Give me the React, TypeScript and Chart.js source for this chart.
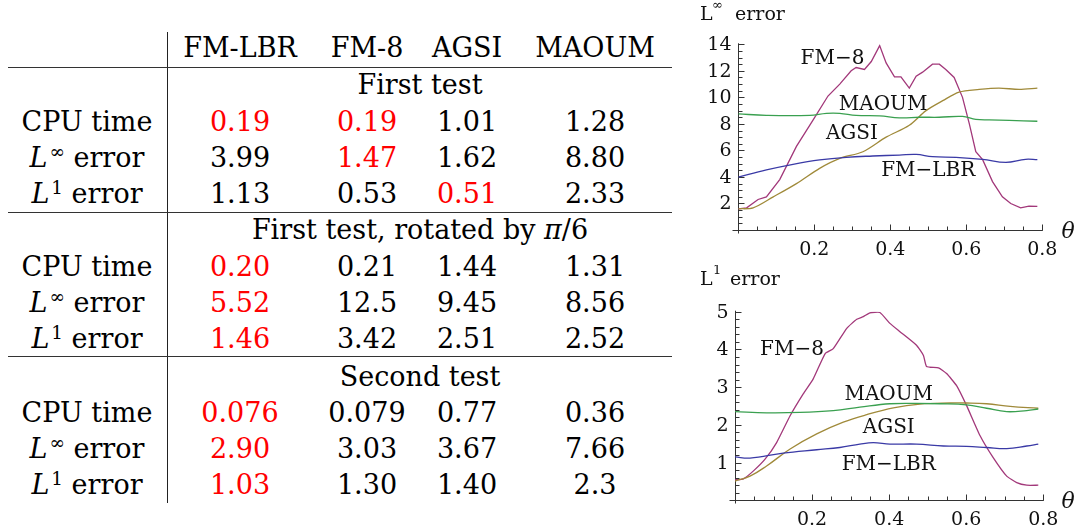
import React, { useEffect, useRef } from "react";
import { Chart, registerables } from "chart.js";
Chart.register(...registerables);

const SERIF = '"DejaVu Serif", "Liberation Serif", serif';

// ---------------- table data ----------------
const methods = ["FM-LBR", "FM-8", "AGSI", "MAOUM"];
const sectionTitles = ["First test", "First test, rotated by ", "Second test"];
const measureLabels = ["CPU time", "L∞ error", "L1 error"];
const firstTestValues = [
  ["0.19", "0.19", "1.01", "1.28"],
  ["3.99", "1.47", "1.62", "8.80"],
  ["1.13", "0.53", "0.51", "2.33"],
];
const firstTestBest = [[0, 1], [1], [2]];
const rotatedTestValues = [
  ["0.20", "0.21", "1.44", "1.31"],
  ["5.52", "12.5", "9.45", "8.56"],
  ["1.46", "3.42", "2.51", "2.52"],
];
const rotatedTestBest = [[0], [0], [0]];
const secondTestValues = [
  ["0.076", "0.079", "0.77", "0.36"],
  ["2.90", "3.03", "3.67", "7.66"],
  ["1.03", "1.30", "1.40", "2.3"],
];
const secondTestBest = [[0], [0], [0]];

// ---------------- plot data ----------------
const thetaTicks = [0.2, 0.4, 0.6, 0.8];
const thetaTickLabels = ["0.2", "0.4", "0.6", "0.8"];
const linfTicks = [2, 4, 6, 8, 10, 12, 14];
const l1Ticks = [1, 2, 3, 4, 5];

// L-infinity error vs theta
const linfFm8Theta = [0, 0.022, 0.052, 0.074, 0.109, 0.153, 0.197, 0.236, 0.267, 0.297, 0.31, 0.332, 0.35, 0.372, 0.389, 0.411, 0.428, 0.45, 0.468, 0.485, 0.511, 0.529, 0.546, 0.568, 0.59, 0.608, 0.625, 0.643, 0.669, 0.695, 0.717, 0.743, 0.765, 0.787];
const linfFm8 = [1.6, 1.67, 2.3, 2.5, 3.8, 6.3, 8.3, 10.1, 11.0, 12.0, 12.25, 12.1, 12.7, 13.9, 12.6, 11.55, 11.55, 10.7, 11.6, 11.9, 12.5, 12.5, 12.1, 11.5, 10.0, 8.0, 5.9, 5.3, 3.65, 2.5, 2.0, 1.67, 1.8, 1.78];
const linfMaoumTheta = [0, 0.074, 0.188, 0.232, 0.267, 0.31, 0.372, 0.424, 0.477, 0.529, 0.59, 0.625, 0.66, 0.713, 0.787];
const linfMaoum = [8.76, 8.64, 8.64, 8.8, 8.8, 8.64, 8.6, 8.46, 8.5, 8.5, 8.56, 8.34, 8.3, 8.26, 8.2];
const linfAgsiTheta = [0, 0.039, 0.092, 0.153, 0.214, 0.267, 0.328, 0.389, 0.45, 0.494, 0.538, 0.581, 0.634, 0.686, 0.739, 0.787];
const linfAgsi = [1.6, 1.67, 2.5, 3.5, 4.65, 5.4, 5.9, 7.0, 7.9, 9.0, 9.75, 10.4, 10.6, 10.7, 10.6, 10.7];
const linfLbrTheta = [0, 0.074, 0.144, 0.214, 0.284, 0.354, 0.424, 0.468, 0.511, 0.573, 0.643, 0.704, 0.756, 0.787];
const linfLbr = [3.98, 4.53, 4.95, 5.28, 5.48, 5.58, 5.65, 5.7, 5.53, 5.48, 5.33, 5.1, 5.33, 5.3];

// L1 error vs theta
const l1Fm8Theta = [0, 0.022, 0.048, 0.078, 0.108, 0.143, 0.177, 0.203, 0.234, 0.255, 0.29, 0.316, 0.333, 0.35, 0.376, 0.402, 0.428, 0.471, 0.489, 0.497, 0.528, 0.549, 0.575, 0.601, 0.636, 0.67, 0.705, 0.731, 0.757, 0.787];
const l1Fm8 = [0.54, 0.57, 0.78, 1.09, 1.53, 2.24, 2.82, 3.22, 3.89, 4.02, 4.56, 4.8, 4.87, 4.97, 4.98, 4.69, 4.47, 4.11, 3.84, 3.55, 3.51, 3.36, 3.04, 2.51, 1.71, 1.13, 0.64, 0.47, 0.4, 0.4];
const l1MaoumTheta = [0, 0.082, 0.169, 0.255, 0.324, 0.402, 0.471, 0.532, 0.601, 0.653, 0.705, 0.757, 0.787];
const l1Maoum = [2.35, 2.32, 2.33, 2.38, 2.47, 2.56, 2.57, 2.56, 2.53, 2.44, 2.35, 2.38, 2.42];
const l1AgsiTheta = [0, 0.039, 0.082, 0.143, 0.212, 0.281, 0.342, 0.411, 0.48, 0.558, 0.601, 0.653, 0.714, 0.787];
const l1Agsi = [0.51, 0.64, 0.91, 1.36, 1.76, 2.07, 2.27, 2.45, 2.55, 2.58, 2.58, 2.56, 2.49, 2.44];
const l1LbrTheta = [0, 0.039, 0.125, 0.212, 0.272, 0.324, 0.359, 0.402, 0.471, 0.541, 0.601, 0.653, 0.705, 0.757, 0.787];
const l1Lbr = [1.15, 1.12, 1.25, 1.34, 1.4, 1.49, 1.53, 1.49, 1.49, 1.44, 1.43, 1.4, 1.37, 1.44, 1.49];

const COLORS = { lbr: "#3a3aa6", fm8: "#a2387a", agsi: "#a08a3a", maoum: "#3aa050" };

type Series = { color: string; theta: number[]; values: number[]; tension: number };
type Note = { text: string; theta: number; value: number };

const linfNotes: Note[] = [
  { text: "FM\u22128", theta: 0.248, value: 12.93 },
  { text: "MAOUM", theta: 0.381, value: 9.47 },
  { text: "AGSI", theta: 0.299, value: 7.29 },
  { text: "FM\u2212LBR", theta: 0.5, value: 4.44 },
];
const l1Notes: Note[] = [
  { text: "FM\u22128", theta: 0.148, value: 3.99 },
  { text: "MAOUM", theta: 0.399, value: 2.79 },
  { text: "AGSI", theta: 0.399, value: 1.92 },
  { text: "FM\u2212LBR", theta: 0.399, value: 0.94 },
];

type PlotProps = {
  left: number; top: number; width: number; height: number;
  pad: { left: number; right: number; top: number; bottom: number };
  yMax: number; yTicks: number[]; yMinor: number;
  sup: string; supDx: number; errDx: number;
  series: Series[]; notes: Note[];
};

function ErrorPlot(p: PlotProps) {
  const ref = useRef<HTMLCanvasElement>(null);
  useEffect(() => {
    const xMax = 0.8;
    const xMinor = 0.05;
    const plugin = {
      id: "mathAxes",
      beforeDatasetsDraw(chart: any) {
        const ctx = chart.ctx as CanvasRenderingContext2D;
        const xs = chart.scales.x;
        const ys = chart.scales.y;
        const x0 = Math.round(xs.getPixelForValue(0)) + 0.5;
        const x1 = xs.getPixelForValue(xMax);
        const y0 = Math.round(ys.getPixelForValue(0)) + 0.5;
        const y1 = ys.getPixelForValue(p.yMax);
        ctx.save();
        ctx.strokeStyle = "#333";
        ctx.lineWidth = 1;
        ctx.beginPath();
        ctx.moveTo(x0 - 6, y0);
        ctx.lineTo(x1 + 0.5, y0);
        ctx.moveTo(x0, y0 + 3);
        ctx.lineTo(x0, y1 - 1);
        for (let i = 1; i * xMinor <= xMax + 1e-9; i++) {
          const v = i * xMinor;
          const px = Math.round(xs.getPixelForValue(v)) + 0.5;
          const major = i % 4 === 0;
          ctx.moveTo(px, y0);
          ctx.lineTo(px, y0 - (major ? 6 : 4));
        }
        for (let i = 1; i * p.yMinor <= p.yMax + 1e-9; i++) {
          const v = i * p.yMinor;
          const py = Math.round(ys.getPixelForValue(v)) + 0.5;
          const major = p.yTicks.some((t) => Math.abs(t - v) < 1e-9);
          ctx.moveTo(x0, py);
          ctx.lineTo(x0 + (major ? 6 : 4), py);
        }
        ctx.stroke();

        ctx.fillStyle = "#111";
        ctx.font = `19px ${SERIF}`;
        ctx.textAlign = "center";
        ctx.textBaseline = "middle";
        thetaTicks.forEach((t, i) => {
          ctx.fillText(thetaTickLabels[i], xs.getPixelForValue(t), y0 + 20);
        });
        ctx.textAlign = "right";
        p.yTicks.forEach((t) => {
          ctx.fillText(String(t), x0 - 7, ys.getPixelForValue(t) + 1);
        });
        ctx.font = `italic 22px ${SERIF}`;
        ctx.textAlign = "center";
        ctx.fillText("\u03b8", 368, y0 + 2);
        ctx.textAlign = "left";
        ctx.font = `19px ${SERIF}`;
        ctx.fillText("L", 0, 15);
        ctx.font = `13px ${SERIF}`;
        ctx.fillText(p.sup, p.supDx, 6);
        ctx.font = `19px ${SERIF}`;
        ctx.fillText("error", p.errDx, 15);
        ctx.restore();
      },
      afterDatasetsDraw(chart: any) {
        const ctx = chart.ctx as CanvasRenderingContext2D;
        const xs = chart.scales.x;
        const ys = chart.scales.y;
        ctx.save();
        ctx.fillStyle = "#111";
        ctx.font = `20px ${SERIF}`;
        ctx.textAlign = "center";
        ctx.textBaseline = "middle";
        p.notes.forEach((n) => {
          ctx.fillText(n.text, xs.getPixelForValue(n.theta), ys.getPixelForValue(n.value));
        });
        ctx.restore();
      },
    };
    const chart = new Chart(ref.current as HTMLCanvasElement, {
      type: "line",
      data: {
        datasets: p.series.map((s) => ({
          data: s.theta.map((t, i) => ({ x: t, y: s.values[i] })),
          borderColor: s.color,
          borderWidth: 1.3,
          pointRadius: 0,
          fill: false,
          tension: s.tension,
        })),
      },
      options: {
        animation: false,
        responsive: false,
        devicePixelRatio: 1,
        layout: { padding: p.pad },
        plugins: { legend: { display: false }, tooltip: { enabled: false }, title: { display: false } },
        scales: {
          x: { type: "linear", min: 0, max: xMax, display: false },
          y: { type: "linear", min: 0, max: p.yMax, display: false },
        },
      },
      plugins: [plugin],
    } as any);
    return () => chart.destroy();
  }, []);
  return (
    <canvas
      ref={ref}
      width={p.width}
      height={p.height}
      style={{ position: "absolute", left: p.left, top: p.top, width: p.width, height: p.height }}
    />
  );
}

// ---------------- table layout ----------------
const colX = [240, 367, 467, 595];
const labelX = 87;
const headerY = 47;
const sectionY = [84, 229, 376];
const rowY = [
  [121, 157, 193],
  [266, 302, 338],
  [412, 448, 484],
];
const hLineY = [67, 212, 356];

function Cell(props: { x: number; y: number; color?: string; children: React.ReactNode }) {
  return (
    <div
      style={{
        position: "absolute",
        left: props.x,
        top: props.y,
        transform: "translate(-50%, -50%)",
        whiteSpace: "nowrap",
        lineHeight: 1,
        color: props.color || "#000",
      }}
    >
      {props.children}
    </div>
  );
}

function MeasureLabel({ i }: { i: number }) {
  const supStyle: React.CSSProperties = { fontSize: "0.68em", position: "relative", top: "-0.5em", marginLeft: 2 };
  if (i === 0) return <>{measureLabels[0]}</>;
  const sup = i === 1 ? "∞" : "1";
  return (
    <>
      <i>L</i>
      <span style={supStyle}>{sup}</span> error
    </>
  );
}

export default function App() {
  const groups = [
    { values: firstTestValues, best: firstTestBest },
    { values: rotatedTestValues, best: rotatedTestBest },
    { values: secondTestValues, best: secondTestBest },
  ];
  return (
    <div
      style={{
        position: "absolute",
        left: 0,
        top: 0,
        width: 1078,
        height: 531,
        background: "#fff",
        fontFamily: SERIF,
        fontSize: 27,
        overflow: "hidden",
      }}
    >
      {methods.map((m, i) => (
        <Cell key={m} x={colX[i]} y={headerY}>{m}</Cell>
      ))}
      <div style={{ position: "absolute", left: 167, top: 32, width: 1, height: 471, background: "#222" }} />
      {hLineY.map((y) => (
        <div key={y} style={{ position: "absolute", left: 8, top: y, width: 664, height: 1.3, background: "#333" }} />
      ))}
      {groups.map((g, gi) => (
        <React.Fragment key={gi}>
          <Cell x={420} y={sectionY[gi]}>
            {sectionTitles[gi]}
            {gi === 1 ? (
              <>
                <i>π</i>/6
              </>
            ) : null}
          </Cell>
          {g.values.map((row, ri) => (
            <React.Fragment key={ri}>
              <Cell x={labelX} y={rowY[gi][ri]}>
                <MeasureLabel i={ri} />
              </Cell>
              {row.map((v, ci) => (
                <Cell key={ci} x={colX[ci]} y={rowY[gi][ri]} color={g.best[ri].includes(ci) ? "#ff0000" : "#000"}>
                  {v}
                </Cell>
              ))}
            </React.Fragment>
          ))}
        </React.Fragment>
      ))}

      <ErrorPlot
        left={700}
        top={0}
        width={378}
        height={265}
        pad={{ left: 38.3, right: 35.7, top: 44.3, bottom: 35 }}
        yMax={14}
        yTicks={linfTicks}
        yMinor={0.5}
        sup={"∞"}
        supDx={12}
        errDx={35}
        series={[
          { color: COLORS.lbr, theta: linfLbrTheta, values: linfLbr, tension: 0.4 },
          { color: COLORS.maoum, theta: linfMaoumTheta, values: linfMaoum, tension: 0.4 },
          { color: COLORS.agsi, theta: linfAgsiTheta, values: linfAgsi, tension: 0.3 },
          { color: COLORS.fm8, theta: linfFm8Theta, values: linfFm8, tension: 0 },
        ]}
        notes={linfNotes}
      />
      <ErrorPlot
        left={700}
        top={265}
        width={378}
        height={266}
        pad={{ left: 35, right: 34.7, top: 46.7, bottom: 30.7 }}
        yMax={5}
        yTicks={l1Ticks}
        yMinor={0.2}
        sup={"1"}
        supDx={13}
        errDx={30}
        series={[
          { color: COLORS.lbr, theta: l1LbrTheta, values: l1Lbr, tension: 0.4 },
          { color: COLORS.maoum, theta: l1MaoumTheta, values: l1Maoum, tension: 0.4 },
          { color: COLORS.agsi, theta: l1AgsiTheta, values: l1Agsi, tension: 0.4 },
          { color: COLORS.fm8, theta: l1Fm8Theta, values: l1Fm8, tension: 0.15 },
        ]}
        notes={l1Notes}
      />
    </div>
  );
}
